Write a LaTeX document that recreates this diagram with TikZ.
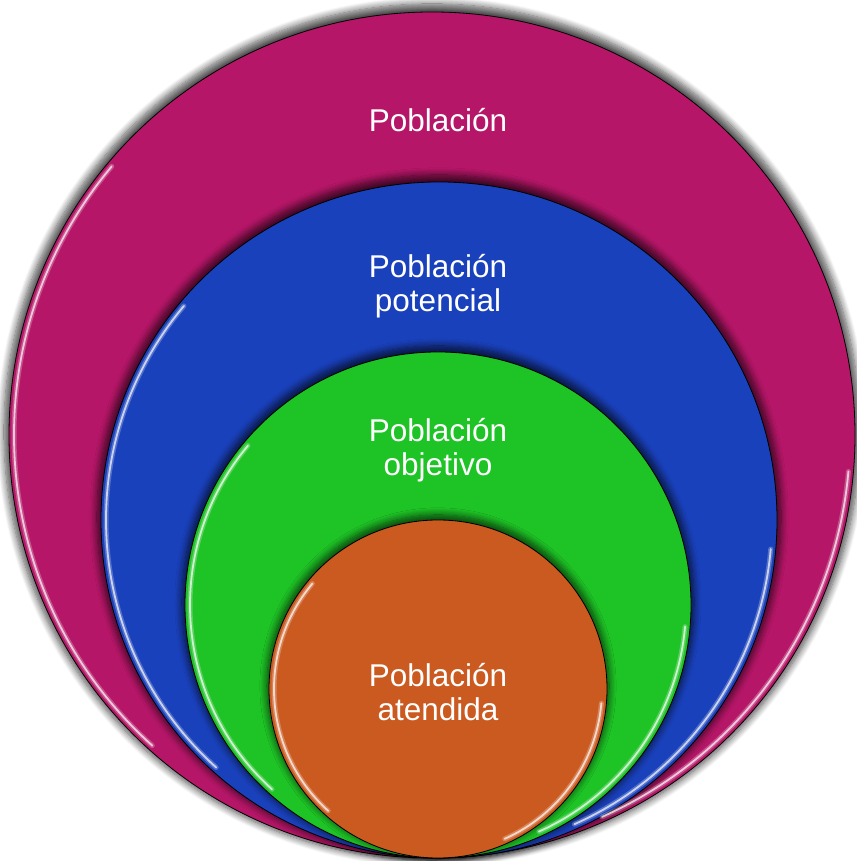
\documentclass[tikz,border=0pt]{standalone}
\usepackage{fontspec}
\setmainfont{Liberation Sans}
\usetikzlibrary{shadows.blur}
\definecolor{ringmagenta}{RGB}{182,22,104}
\definecolor{ringblue}{RGB}{26,65,188}
\definecolor{ringgreen}{RGB}{30,195,38}
\definecolor{ringorange}{RGB}{203,90,32}
\tikzset{
  ring/.style={circle, draw=black, line width=0.8pt, inner sep=0pt,
    blur shadow={shadow xshift=0pt, shadow yshift=3pt, shadow scale=1.012,
      shadow opacity=70, shadow blur steps=10, shadow blur radius=7pt}},
  glosswide/.style={white, opacity=0.25, line width=5pt, line cap=round},
  gloss/.style={white, opacity=0.7, line width=1.8pt, line cap=round},
  ringtext/.style={text=white, align=center, font=\fontsize{31.5}{34}\selectfont}
}
\begin{document}
\begin{tikzpicture}[x=1pt,y=1pt]
  \useasboundingbox (0,0) rectangle (856,861);
  % nested population circles, all touching at the bottom
  \node[ring, fill=ringmagenta, minimum size=846pt] (pob) at (432,426) {};
  \node[ring, fill=ringblue,    minimum size=676pt] (pot) at (439,341) {};
  \node[ring, fill=ringgreen,   minimum size=506pt] (obj) at (438,256) {};
  \node[ring, fill=ringorange,  minimum size=338pt] (ate) at (438,172) {};
  % bevel highlights along the rims
  \foreach \c/\r in {pob/423, pot/338, obj/253, ate/169}{
    \draw[glosswide] ([shift={(140:\r-5)}]\c.center) arc[start angle=140, end angle=228, radius=\r-5];
    \draw[gloss] ([shift={(140:\r-5)}]\c.center) arc[start angle=140, end angle=228, radius=\r-5];
    \draw[glosswide] ([shift={(-5:\r-5)}]\c.center) arc[start angle=-5, end angle=-66, radius=\r-5];
    \draw[gloss] ([shift={(-5:\r-5)}]\c.center) arc[start angle=-5, end angle=-66, radius=\r-5];
  }
  % labels
  \node[ringtext] (tpob) at (438,741) {Población};
  \node[ringtext] (tpot) at (438,575) {Población\\potencial};
  \node[ringtext] (tobj) at (438,411) {Población\\objetivo};
  \node[ringtext] (tate) at (438,169) {Población\\atendida};
\end{tikzpicture}
\end{document}
